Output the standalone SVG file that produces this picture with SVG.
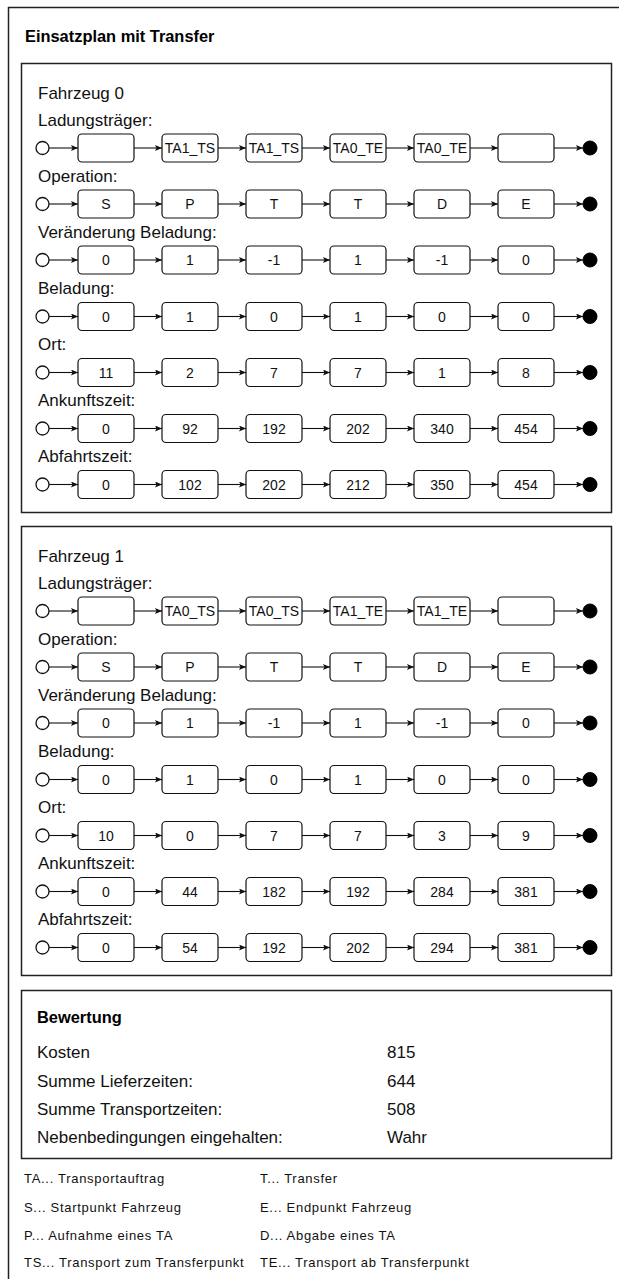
<svg xmlns="http://www.w3.org/2000/svg" width="619" height="1279" viewBox="0 0 619 1279">
  <style>
    .frame { fill: #ffffff; stroke: #222222; stroke-width: 1.5; }
    .box { fill: #ffffff; stroke: #111111; stroke-width: 1.2; }
    .start { fill: #ffffff; stroke: #111111; stroke-width: 1.3; }
    .end { fill: #000000; stroke: #000000; stroke-width: 1; }
    .edge line { stroke: #111111; stroke-width: 1.1; marker-end: url(#arrow); }
    .title { font-family: "Liberation Sans", Arial, sans-serif; font-size: 16.4px; font-weight: bold; fill: #000; }
    .lbl { font-family: "Liberation Sans", Arial, sans-serif; font-size: 17px; fill: #111; }
    .val { font-family: "Liberation Sans", Arial, sans-serif; font-size: 14px; fill: #111; text-anchor: middle; }
    .leg { font-family: "Liberation Sans", Arial, sans-serif; font-size: 13px; letter-spacing: 0.7px; fill: #111; }
  </style>
  <defs>
    <marker id="arrow" markerUnits="userSpaceOnUse" markerWidth="8" markerHeight="8" refX="7" refY="3" orient="auto">
      <path d="M0,0 L7,3 L0,6 L1.5,3 z" fill="#111111"/>
    </marker>
  </defs>

  <!-- outer frame (runs past the right and bottom edges) -->
  <g id="outer">
    <rect class="frame" x="8.5" y="7.5" width="700" height="1400"/>
    <text class="title" x="25" y="42">Einsatzplan mit Transfer</text>
  </g>

  <!-- vehicle panels -->
  <g id="panel-v0">
    <rect class="frame" x="21.5" y="63.5" width="590" height="449"/>
    <text class="lbl" x="38" y="98.5">Fahrzeug 0</text>
    <text class="lbl" x="38" y="125.5">Ladungsträger:</text>
    <text class="lbl" x="38" y="181.5">Operation:</text>
    <text class="lbl" x="38" y="237.5">Veränderung Beladung:</text>
    <text class="lbl" x="38" y="294">Beladung:</text>
    <text class="lbl" x="38" y="350">Ort:</text>
    <text class="lbl" x="38" y="406">Ankunftszeit:</text>
    <text class="lbl" x="38" y="462">Abfahrtszeit:</text>
  </g>
  <g id="panel-v1">
    <rect class="frame" x="21.5" y="526.5" width="590" height="449"/>
    <text class="lbl" x="38" y="561.5">Fahrzeug 1</text>
    <text class="lbl" x="38" y="588.5">Ladungsträger:</text>
    <text class="lbl" x="38" y="644.5">Operation:</text>
    <text class="lbl" x="38" y="700.5">Veränderung Beladung:</text>
    <text class="lbl" x="38" y="757">Beladung:</text>
    <text class="lbl" x="38" y="813">Ort:</text>
    <text class="lbl" x="38" y="869">Ankunftszeit:</text>
    <text class="lbl" x="38" y="925">Abfahrtszeit:</text>
  </g>

  <!-- connectors: start -> boxes -> end, one chain per row -->
  <g id="connectors" class="edge">
    <g transform="translate(0,148)"><line x1="49" x2="78"/><line x1="134" x2="162"/><line x1="218" x2="246"/><line x1="302" x2="330"/><line x1="386" x2="414"/><line x1="470" x2="498"/><line x1="554" x2="583"/></g>
    <g transform="translate(0,204)"><line x1="49" x2="78"/><line x1="134" x2="162"/><line x1="218" x2="246"/><line x1="302" x2="330"/><line x1="386" x2="414"/><line x1="470" x2="498"/><line x1="554" x2="583"/></g>
    <g transform="translate(0,260)"><line x1="49" x2="78"/><line x1="134" x2="162"/><line x1="218" x2="246"/><line x1="302" x2="330"/><line x1="386" x2="414"/><line x1="470" x2="498"/><line x1="554" x2="583"/></g>
    <g transform="translate(0,316.5)"><line x1="49" x2="78"/><line x1="134" x2="162"/><line x1="218" x2="246"/><line x1="302" x2="330"/><line x1="386" x2="414"/><line x1="470" x2="498"/><line x1="554" x2="583"/></g>
    <g transform="translate(0,372.5)"><line x1="49" x2="78"/><line x1="134" x2="162"/><line x1="218" x2="246"/><line x1="302" x2="330"/><line x1="386" x2="414"/><line x1="470" x2="498"/><line x1="554" x2="583"/></g>
    <g transform="translate(0,428.5)"><line x1="49" x2="78"/><line x1="134" x2="162"/><line x1="218" x2="246"/><line x1="302" x2="330"/><line x1="386" x2="414"/><line x1="470" x2="498"/><line x1="554" x2="583"/></g>
    <g transform="translate(0,484.5)"><line x1="49" x2="78"/><line x1="134" x2="162"/><line x1="218" x2="246"/><line x1="302" x2="330"/><line x1="386" x2="414"/><line x1="470" x2="498"/><line x1="554" x2="583"/></g>
    <g transform="translate(0,611)"><line x1="49" x2="78"/><line x1="134" x2="162"/><line x1="218" x2="246"/><line x1="302" x2="330"/><line x1="386" x2="414"/><line x1="470" x2="498"/><line x1="554" x2="583"/></g>
    <g transform="translate(0,667)"><line x1="49" x2="78"/><line x1="134" x2="162"/><line x1="218" x2="246"/><line x1="302" x2="330"/><line x1="386" x2="414"/><line x1="470" x2="498"/><line x1="554" x2="583"/></g>
    <g transform="translate(0,723)"><line x1="49" x2="78"/><line x1="134" x2="162"/><line x1="218" x2="246"/><line x1="302" x2="330"/><line x1="386" x2="414"/><line x1="470" x2="498"/><line x1="554" x2="583"/></g>
    <g transform="translate(0,779.5)"><line x1="49" x2="78"/><line x1="134" x2="162"/><line x1="218" x2="246"/><line x1="302" x2="330"/><line x1="386" x2="414"/><line x1="470" x2="498"/><line x1="554" x2="583"/></g>
    <g transform="translate(0,835.5)"><line x1="49" x2="78"/><line x1="134" x2="162"/><line x1="218" x2="246"/><line x1="302" x2="330"/><line x1="386" x2="414"/><line x1="470" x2="498"/><line x1="554" x2="583"/></g>
    <g transform="translate(0,891.5)"><line x1="49" x2="78"/><line x1="134" x2="162"/><line x1="218" x2="246"/><line x1="302" x2="330"/><line x1="386" x2="414"/><line x1="470" x2="498"/><line x1="554" x2="583"/></g>
    <g transform="translate(0,947.5)"><line x1="49" x2="78"/><line x1="134" x2="162"/><line x1="218" x2="246"/><line x1="302" x2="330"/><line x1="386" x2="414"/><line x1="470" x2="498"/><line x1="554" x2="583"/></g>
  </g>

  <!-- Fahrzeug 0: Ladungsträger -->
  <g id="v0-lt" transform="translate(0,148)">
    <g id="v0-lt-s"><circle class="start" cx="42.5" cy="0" r="6.5"/></g>
    <g id="v0-lt-1"><rect class="box" x="78" y="-14" width="56" height="28" rx="4"/></g>
    <g id="v0-lt-2"><rect class="box" x="162" y="-14" width="56" height="28" rx="4"/><text class="val" x="190" y="5">TA1_TS</text></g>
    <g id="v0-lt-3"><rect class="box" x="246" y="-14" width="56" height="28" rx="4"/><text class="val" x="274" y="5">TA1_TS</text></g>
    <g id="v0-lt-4"><rect class="box" x="330" y="-14" width="56" height="28" rx="4"/><text class="val" x="358" y="5">TA0_TE</text></g>
    <g id="v0-lt-5"><rect class="box" x="414" y="-14" width="56" height="28" rx="4"/><text class="val" x="442" y="5">TA0_TE</text></g>
    <g id="v0-lt-6"><rect class="box" x="498" y="-14" width="56" height="28" rx="4"/></g>
    <g id="v0-lt-e"><circle class="end" cx="590" cy="0" r="7"/></g>
  </g>
  <!-- Fahrzeug 0: Operation -->
  <g id="v0-op" transform="translate(0,204)">
    <g id="v0-op-s"><circle class="start" cx="42.5" cy="0" r="6.5"/></g>
    <g id="v0-op-1"><rect class="box" x="78" y="-14" width="56" height="28" rx="4"/><text class="val" x="106" y="5">S</text></g>
    <g id="v0-op-2"><rect class="box" x="162" y="-14" width="56" height="28" rx="4"/><text class="val" x="190" y="5">P</text></g>
    <g id="v0-op-3"><rect class="box" x="246" y="-14" width="56" height="28" rx="4"/><text class="val" x="274" y="5">T</text></g>
    <g id="v0-op-4"><rect class="box" x="330" y="-14" width="56" height="28" rx="4"/><text class="val" x="358" y="5">T</text></g>
    <g id="v0-op-5"><rect class="box" x="414" y="-14" width="56" height="28" rx="4"/><text class="val" x="442" y="5">D</text></g>
    <g id="v0-op-6"><rect class="box" x="498" y="-14" width="56" height="28" rx="4"/><text class="val" x="526" y="5">E</text></g>
    <g id="v0-op-e"><circle class="end" cx="590" cy="0" r="7"/></g>
  </g>
  <!-- Fahrzeug 0: Veränderung Beladung -->
  <g id="v0-vb" transform="translate(0,260)">
    <g id="v0-vb-s"><circle class="start" cx="42.5" cy="0" r="6.5"/></g>
    <g id="v0-vb-1"><rect class="box" x="78" y="-14" width="56" height="28" rx="4"/><text class="val" x="106" y="5">0</text></g>
    <g id="v0-vb-2"><rect class="box" x="162" y="-14" width="56" height="28" rx="4"/><text class="val" x="190" y="5">1</text></g>
    <g id="v0-vb-3"><rect class="box" x="246" y="-14" width="56" height="28" rx="4"/><text class="val" x="274" y="5">-1</text></g>
    <g id="v0-vb-4"><rect class="box" x="330" y="-14" width="56" height="28" rx="4"/><text class="val" x="358" y="5">1</text></g>
    <g id="v0-vb-5"><rect class="box" x="414" y="-14" width="56" height="28" rx="4"/><text class="val" x="442" y="5">-1</text></g>
    <g id="v0-vb-6"><rect class="box" x="498" y="-14" width="56" height="28" rx="4"/><text class="val" x="526" y="5">0</text></g>
    <g id="v0-vb-e"><circle class="end" cx="590" cy="0" r="7"/></g>
  </g>
  <!-- Fahrzeug 0: Beladung -->
  <g id="v0-bl" transform="translate(0,316.5)">
    <g id="v0-bl-s"><circle class="start" cx="42.5" cy="0" r="6.5"/></g>
    <g id="v0-bl-1"><rect class="box" x="78" y="-14" width="56" height="28" rx="4"/><text class="val" x="106" y="5">0</text></g>
    <g id="v0-bl-2"><rect class="box" x="162" y="-14" width="56" height="28" rx="4"/><text class="val" x="190" y="5">1</text></g>
    <g id="v0-bl-3"><rect class="box" x="246" y="-14" width="56" height="28" rx="4"/><text class="val" x="274" y="5">0</text></g>
    <g id="v0-bl-4"><rect class="box" x="330" y="-14" width="56" height="28" rx="4"/><text class="val" x="358" y="5">1</text></g>
    <g id="v0-bl-5"><rect class="box" x="414" y="-14" width="56" height="28" rx="4"/><text class="val" x="442" y="5">0</text></g>
    <g id="v0-bl-6"><rect class="box" x="498" y="-14" width="56" height="28" rx="4"/><text class="val" x="526" y="5">0</text></g>
    <g id="v0-bl-e"><circle class="end" cx="590" cy="0" r="7"/></g>
  </g>
  <!-- Fahrzeug 0: Ort -->
  <g id="v0-ort" transform="translate(0,372.5)">
    <g id="v0-ort-s"><circle class="start" cx="42.5" cy="0" r="6.5"/></g>
    <g id="v0-ort-1"><rect class="box" x="78" y="-14" width="56" height="28" rx="4"/><text class="val" x="106" y="5">11</text></g>
    <g id="v0-ort-2"><rect class="box" x="162" y="-14" width="56" height="28" rx="4"/><text class="val" x="190" y="5">2</text></g>
    <g id="v0-ort-3"><rect class="box" x="246" y="-14" width="56" height="28" rx="4"/><text class="val" x="274" y="5">7</text></g>
    <g id="v0-ort-4"><rect class="box" x="330" y="-14" width="56" height="28" rx="4"/><text class="val" x="358" y="5">7</text></g>
    <g id="v0-ort-5"><rect class="box" x="414" y="-14" width="56" height="28" rx="4"/><text class="val" x="442" y="5">1</text></g>
    <g id="v0-ort-6"><rect class="box" x="498" y="-14" width="56" height="28" rx="4"/><text class="val" x="526" y="5">8</text></g>
    <g id="v0-ort-e"><circle class="end" cx="590" cy="0" r="7"/></g>
  </g>
  <!-- Fahrzeug 0: Ankunftszeit -->
  <g id="v0-an" transform="translate(0,428.5)">
    <g id="v0-an-s"><circle class="start" cx="42.5" cy="0" r="6.5"/></g>
    <g id="v0-an-1"><rect class="box" x="78" y="-14" width="56" height="28" rx="4"/><text class="val" x="106" y="5">0</text></g>
    <g id="v0-an-2"><rect class="box" x="162" y="-14" width="56" height="28" rx="4"/><text class="val" x="190" y="5">92</text></g>
    <g id="v0-an-3"><rect class="box" x="246" y="-14" width="56" height="28" rx="4"/><text class="val" x="274" y="5">192</text></g>
    <g id="v0-an-4"><rect class="box" x="330" y="-14" width="56" height="28" rx="4"/><text class="val" x="358" y="5">202</text></g>
    <g id="v0-an-5"><rect class="box" x="414" y="-14" width="56" height="28" rx="4"/><text class="val" x="442" y="5">340</text></g>
    <g id="v0-an-6"><rect class="box" x="498" y="-14" width="56" height="28" rx="4"/><text class="val" x="526" y="5">454</text></g>
    <g id="v0-an-e"><circle class="end" cx="590" cy="0" r="7"/></g>
  </g>
  <!-- Fahrzeug 0: Abfahrtszeit -->
  <g id="v0-ab" transform="translate(0,484.5)">
    <g id="v0-ab-s"><circle class="start" cx="42.5" cy="0" r="6.5"/></g>
    <g id="v0-ab-1"><rect class="box" x="78" y="-14" width="56" height="28" rx="4"/><text class="val" x="106" y="5">0</text></g>
    <g id="v0-ab-2"><rect class="box" x="162" y="-14" width="56" height="28" rx="4"/><text class="val" x="190" y="5">102</text></g>
    <g id="v0-ab-3"><rect class="box" x="246" y="-14" width="56" height="28" rx="4"/><text class="val" x="274" y="5">202</text></g>
    <g id="v0-ab-4"><rect class="box" x="330" y="-14" width="56" height="28" rx="4"/><text class="val" x="358" y="5">212</text></g>
    <g id="v0-ab-5"><rect class="box" x="414" y="-14" width="56" height="28" rx="4"/><text class="val" x="442" y="5">350</text></g>
    <g id="v0-ab-6"><rect class="box" x="498" y="-14" width="56" height="28" rx="4"/><text class="val" x="526" y="5">454</text></g>
    <g id="v0-ab-e"><circle class="end" cx="590" cy="0" r="7"/></g>
  </g>

  <!-- Fahrzeug 1: Ladungsträger -->
  <g id="v1-lt" transform="translate(0,611)">
    <g id="v1-lt-s"><circle class="start" cx="42.5" cy="0" r="6.5"/></g>
    <g id="v1-lt-1"><rect class="box" x="78" y="-14" width="56" height="28" rx="4"/></g>
    <g id="v1-lt-2"><rect class="box" x="162" y="-14" width="56" height="28" rx="4"/><text class="val" x="190" y="5">TA0_TS</text></g>
    <g id="v1-lt-3"><rect class="box" x="246" y="-14" width="56" height="28" rx="4"/><text class="val" x="274" y="5">TA0_TS</text></g>
    <g id="v1-lt-4"><rect class="box" x="330" y="-14" width="56" height="28" rx="4"/><text class="val" x="358" y="5">TA1_TE</text></g>
    <g id="v1-lt-5"><rect class="box" x="414" y="-14" width="56" height="28" rx="4"/><text class="val" x="442" y="5">TA1_TE</text></g>
    <g id="v1-lt-6"><rect class="box" x="498" y="-14" width="56" height="28" rx="4"/></g>
    <g id="v1-lt-e"><circle class="end" cx="590" cy="0" r="7"/></g>
  </g>
  <!-- Fahrzeug 1: Operation -->
  <g id="v1-op" transform="translate(0,667)">
    <g id="v1-op-s"><circle class="start" cx="42.5" cy="0" r="6.5"/></g>
    <g id="v1-op-1"><rect class="box" x="78" y="-14" width="56" height="28" rx="4"/><text class="val" x="106" y="5">S</text></g>
    <g id="v1-op-2"><rect class="box" x="162" y="-14" width="56" height="28" rx="4"/><text class="val" x="190" y="5">P</text></g>
    <g id="v1-op-3"><rect class="box" x="246" y="-14" width="56" height="28" rx="4"/><text class="val" x="274" y="5">T</text></g>
    <g id="v1-op-4"><rect class="box" x="330" y="-14" width="56" height="28" rx="4"/><text class="val" x="358" y="5">T</text></g>
    <g id="v1-op-5"><rect class="box" x="414" y="-14" width="56" height="28" rx="4"/><text class="val" x="442" y="5">D</text></g>
    <g id="v1-op-6"><rect class="box" x="498" y="-14" width="56" height="28" rx="4"/><text class="val" x="526" y="5">E</text></g>
    <g id="v1-op-e"><circle class="end" cx="590" cy="0" r="7"/></g>
  </g>
  <!-- Fahrzeug 1: Veränderung Beladung -->
  <g id="v1-vb" transform="translate(0,723)">
    <g id="v1-vb-s"><circle class="start" cx="42.5" cy="0" r="6.5"/></g>
    <g id="v1-vb-1"><rect class="box" x="78" y="-14" width="56" height="28" rx="4"/><text class="val" x="106" y="5">0</text></g>
    <g id="v1-vb-2"><rect class="box" x="162" y="-14" width="56" height="28" rx="4"/><text class="val" x="190" y="5">1</text></g>
    <g id="v1-vb-3"><rect class="box" x="246" y="-14" width="56" height="28" rx="4"/><text class="val" x="274" y="5">-1</text></g>
    <g id="v1-vb-4"><rect class="box" x="330" y="-14" width="56" height="28" rx="4"/><text class="val" x="358" y="5">1</text></g>
    <g id="v1-vb-5"><rect class="box" x="414" y="-14" width="56" height="28" rx="4"/><text class="val" x="442" y="5">-1</text></g>
    <g id="v1-vb-6"><rect class="box" x="498" y="-14" width="56" height="28" rx="4"/><text class="val" x="526" y="5">0</text></g>
    <g id="v1-vb-e"><circle class="end" cx="590" cy="0" r="7"/></g>
  </g>
  <!-- Fahrzeug 1: Beladung -->
  <g id="v1-bl" transform="translate(0,779.5)">
    <g id="v1-bl-s"><circle class="start" cx="42.5" cy="0" r="6.5"/></g>
    <g id="v1-bl-1"><rect class="box" x="78" y="-14" width="56" height="28" rx="4"/><text class="val" x="106" y="5">0</text></g>
    <g id="v1-bl-2"><rect class="box" x="162" y="-14" width="56" height="28" rx="4"/><text class="val" x="190" y="5">1</text></g>
    <g id="v1-bl-3"><rect class="box" x="246" y="-14" width="56" height="28" rx="4"/><text class="val" x="274" y="5">0</text></g>
    <g id="v1-bl-4"><rect class="box" x="330" y="-14" width="56" height="28" rx="4"/><text class="val" x="358" y="5">1</text></g>
    <g id="v1-bl-5"><rect class="box" x="414" y="-14" width="56" height="28" rx="4"/><text class="val" x="442" y="5">0</text></g>
    <g id="v1-bl-6"><rect class="box" x="498" y="-14" width="56" height="28" rx="4"/><text class="val" x="526" y="5">0</text></g>
    <g id="v1-bl-e"><circle class="end" cx="590" cy="0" r="7"/></g>
  </g>
  <!-- Fahrzeug 1: Ort -->
  <g id="v1-ort" transform="translate(0,835.5)">
    <g id="v1-ort-s"><circle class="start" cx="42.5" cy="0" r="6.5"/></g>
    <g id="v1-ort-1"><rect class="box" x="78" y="-14" width="56" height="28" rx="4"/><text class="val" x="106" y="5">10</text></g>
    <g id="v1-ort-2"><rect class="box" x="162" y="-14" width="56" height="28" rx="4"/><text class="val" x="190" y="5">0</text></g>
    <g id="v1-ort-3"><rect class="box" x="246" y="-14" width="56" height="28" rx="4"/><text class="val" x="274" y="5">7</text></g>
    <g id="v1-ort-4"><rect class="box" x="330" y="-14" width="56" height="28" rx="4"/><text class="val" x="358" y="5">7</text></g>
    <g id="v1-ort-5"><rect class="box" x="414" y="-14" width="56" height="28" rx="4"/><text class="val" x="442" y="5">3</text></g>
    <g id="v1-ort-6"><rect class="box" x="498" y="-14" width="56" height="28" rx="4"/><text class="val" x="526" y="5">9</text></g>
    <g id="v1-ort-e"><circle class="end" cx="590" cy="0" r="7"/></g>
  </g>
  <!-- Fahrzeug 1: Ankunftszeit -->
  <g id="v1-an" transform="translate(0,891.5)">
    <g id="v1-an-s"><circle class="start" cx="42.5" cy="0" r="6.5"/></g>
    <g id="v1-an-1"><rect class="box" x="78" y="-14" width="56" height="28" rx="4"/><text class="val" x="106" y="5">0</text></g>
    <g id="v1-an-2"><rect class="box" x="162" y="-14" width="56" height="28" rx="4"/><text class="val" x="190" y="5">44</text></g>
    <g id="v1-an-3"><rect class="box" x="246" y="-14" width="56" height="28" rx="4"/><text class="val" x="274" y="5">182</text></g>
    <g id="v1-an-4"><rect class="box" x="330" y="-14" width="56" height="28" rx="4"/><text class="val" x="358" y="5">192</text></g>
    <g id="v1-an-5"><rect class="box" x="414" y="-14" width="56" height="28" rx="4"/><text class="val" x="442" y="5">284</text></g>
    <g id="v1-an-6"><rect class="box" x="498" y="-14" width="56" height="28" rx="4"/><text class="val" x="526" y="5">381</text></g>
    <g id="v1-an-e"><circle class="end" cx="590" cy="0" r="7"/></g>
  </g>
  <!-- Fahrzeug 1: Abfahrtszeit -->
  <g id="v1-ab" transform="translate(0,947.5)">
    <g id="v1-ab-s"><circle class="start" cx="42.5" cy="0" r="6.5"/></g>
    <g id="v1-ab-1"><rect class="box" x="78" y="-14" width="56" height="28" rx="4"/><text class="val" x="106" y="5">0</text></g>
    <g id="v1-ab-2"><rect class="box" x="162" y="-14" width="56" height="28" rx="4"/><text class="val" x="190" y="5">54</text></g>
    <g id="v1-ab-3"><rect class="box" x="246" y="-14" width="56" height="28" rx="4"/><text class="val" x="274" y="5">192</text></g>
    <g id="v1-ab-4"><rect class="box" x="330" y="-14" width="56" height="28" rx="4"/><text class="val" x="358" y="5">202</text></g>
    <g id="v1-ab-5"><rect class="box" x="414" y="-14" width="56" height="28" rx="4"/><text class="val" x="442" y="5">294</text></g>
    <g id="v1-ab-6"><rect class="box" x="498" y="-14" width="56" height="28" rx="4"/><text class="val" x="526" y="5">381</text></g>
    <g id="v1-ab-e"><circle class="end" cx="590" cy="0" r="7"/></g>
  </g>

  <!-- evaluation panel -->
  <g id="bewertung">
    <rect class="frame" x="21.5" y="990.5" width="590" height="168"/>
    <text class="title" x="37" y="1023">Bewertung</text>
    <text class="lbl" x="37" y="1058">Kosten</text>
    <text class="lbl" x="37" y="1087">Summe Lieferzeiten:</text>
    <text class="lbl" x="37" y="1115">Summe Transportzeiten:</text>
    <text class="lbl" x="37" y="1143">Nebenbedingungen eingehalten:</text>
    <text class="lbl" x="387" y="1058">815</text>
    <text class="lbl" x="387" y="1087">644</text>
    <text class="lbl" x="387" y="1115">508</text>
    <text class="lbl" x="387" y="1143">Wahr</text>
  </g>

  <!-- abbreviations -->
  <g id="legende">
    <text class="leg" x="24" y="1183">TA... Transportauftrag</text>
    <text class="leg" x="24" y="1211.5">S... Startpunkt Fahrzeug</text>
    <text class="leg" x="24" y="1239.5">P... Aufnahme eines TA</text>
    <text class="leg" x="24" y="1267">TS... Transport zum Transferpunkt</text>
    <text class="leg" x="260" y="1183">T... Transfer</text>
    <text class="leg" x="260" y="1211.5">E... Endpunkt Fahrzeug</text>
    <text class="leg" x="260" y="1239.5">D... Abgabe eines TA</text>
    <text class="leg" x="260" y="1267">TE... Transport ab Transferpunkt</text>
  </g>
</svg>
